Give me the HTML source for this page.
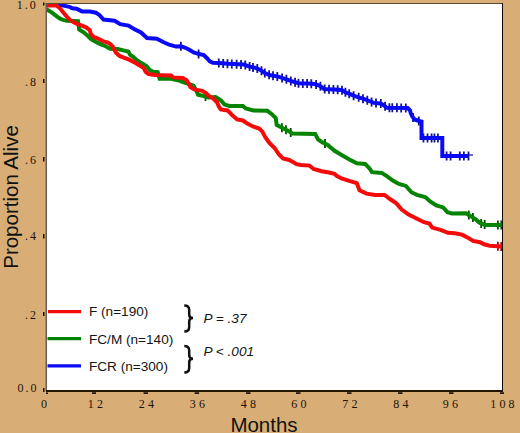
<!DOCTYPE html>
<html><head><meta charset="utf-8"><style>
html,body{margin:0;padding:0;}
body{width:520px;height:433px;background:#D8AE76;overflow:hidden;position:relative;}
svg{position:absolute;left:0;top:0;}
.ser{font-family:"Liberation Serif",serif;}
.san{font-family:"Liberation Sans",sans-serif;}
</style></head><body>
<svg width="520" height="433" viewBox="0 0 520 433">
<rect x="46" y="3" width="457" height="388" fill="#fff"/>
<g fill="#140a05">
<rect x="43" y="2.5" width="1.5" height="3"/>
<rect x="43" y="79" width="1.5" height="4"/>
<rect x="43" y="157" width="1.5" height="4.5"/>
<rect x="43" y="234" width="1.5" height="4.5"/>
<rect x="43" y="312" width="1.5" height="4"/>
<rect x="43" y="388" width="1.5" height="4"/>
<rect x="46" y="392.5" width="2" height="1.5"/>
<rect x="92" y="392.3" width="4" height="1.6"/>
<rect x="143.5" y="392.3" width="4.5" height="1.6"/>
<rect x="194.6" y="392.3" width="4.5" height="1.6"/>
<rect x="246" y="392.3" width="4.5" height="1.6"/>
<rect x="296" y="392.3" width="4.5" height="1.6"/>
<rect x="347" y="392.3" width="4.5" height="1.6"/>
<rect x="398" y="392.3" width="4.5" height="1.6"/>
<rect x="449" y="392.3" width="4.5" height="1.6"/>
<rect x="500" y="392.3" width="4" height="1.6"/>
</g>

<path d="M180.9 41.7v9 M198.6 49.4v9 M218.8 58.6v9 M223.2 58.9v9 M227.5 59.2v9 M231.8 59.5v9 M236.6 59.7v9 M241.0 59.9v9 M245.3 60.6v9 M249.6 62.1v9 M253.0 62.9v9 M257.3 64.1v9 M261.5 66.3v9 M264.8 68.6v9 M269.1 70.3v9 M273.0 71.2v9 M277.3 72.0v9 M282.1 73.4v9 M286.4 74.8v9 M290.8 76.4v9 M295.1 77.7v9 M298.5 78.7v9 M302.8 78.9v9 M307.1 79.1v9 M311.3 79.3v9 M316.1 80.1v9 M320.4 81.8v9 M324.7 84.5v9 M329.0 84.7v9 M333.4 84.9v9 M337.7 85.2v9 M342.0 85.7v9 M345.4 87.8v9 M349.2 89.3v9 M353.6 91.2v9 M358.7 92.8v9 M363.0 94.2v9 M367.3 95.7v9 M371.6 97.5v9 M376.0 98.5v9 M380.8 98.9v9 M385.1 101.8v9 M389.4 103.2v9 M392.3 103.3v9 M396.9 103.3v9 M401.2 103.4v9 M405.8 103.5v9 M413.0 112.9v9 M418.8 116.4v9 M423.5 133.5v9 M427.5 133.5v9 M431.6 133.5v9 M434.5 133.5v9 M437.9 133.5v9 M446.6 151.5v9 M450.6 151.5v9 M459.8 151.5v9 M463.9 151.5v9 M468.5 151.5v9" stroke="#14148c" stroke-width="1.8"/>
<path d="M466 155h7" stroke="#1a1aa0" stroke-width="1.3"/>
<polyline points="46,5 59.9,5 64.7,5.9 69.5,6.9 72.3,8.3 76.5,8.7 79.9,10.4 82,11.4 90,11.5 95.9,12.7 99.4,15 103.5,19.5 114.6,20.8 120.2,24.2 128.5,25.6 134,29 141,32.5 147,38 156.8,38.7 163.7,42.2 169.2,44.7 176,46.6 180.9,46.2 184.8,47.5 189.3,49.7 193.7,52.4 198.3,53.8 203.7,55 206.8,58 209.8,61.3 212.9,62.8 219.1,63.1 228.3,63.8 243.8,64.5 248.7,66.4 255.4,67.9 260,69.7 264.8,73.1 269.6,75 279.2,76.9 285,78.8 291.7,81.2 298.5,83.2 308.1,83.6 314.6,84.1 319.4,85.6 324.2,89 333.8,89.4 341.5,89.9 345.4,92.3 350.2,94.2 354.8,96.2 359.6,97.6 364.4,99.1 369.2,101 374,102.9 380.8,103.4 384.6,105.8 386.5,107.7 407.7,108 410,110.3 410.8,113.4 412.3,116.5 414.6,119.5 419.2,121 421.5,121.5 421.5,138 442.3,138 442.3,156 468,156" fill="none" stroke="#0a0af5" stroke-width="4" stroke-linejoin="miter"/>
<path d="M205.5 92.1v9 M281.9 123.2v9 M286.0 125.3v9 M290.7 127.9v9 M325.0 139.1v9 M468.8 210.5v9 M472.9 213.1v9 M481.2 218.9v9 M484.7 220.1v9 M497.9 220.4v9 M501.3 220.4v9" stroke="#004f00" stroke-width="1.8"/>
<polyline points="46,9 50.2,11.4 53.6,13.9 57.1,16.6 60.5,19 64,20.1 66.8,20.8 78,21.2 79.2,29.5 84,32.6 87.9,36 90.8,38.8 95.6,41.7 100.4,44.1 106.2,46.5 110,48.7 117.7,49.1 124.4,50.6 128.3,51.5 130.2,54.9 133.1,56.8 136.9,60.2 141.7,63.1 146.5,66 149.4,69.8 153.3,71.7 157.7,72.1 159.6,78.8 171.2,78.8 179,80.5 181.7,81.7 186,83 193.5,85.6 196,90 198.1,94.7 202.4,95.7 208.5,97.5 215.6,97 220.8,100.3 224.6,104.6 229.4,106 242.9,106 245.8,108.5 253.5,110.4 267.4,110.8 271.5,113.9 275.7,118 276.7,125 283,128.3 289.2,131.4 292.3,133.5 315.2,133.9 318,139.4 322.2,142.2 327.7,145 334.6,150.8 341.6,155 348.5,159 356.8,163.2 365.1,163.9 369.2,168 372,172.2 381.7,172.9 387.2,176.3 392.8,180.5 398.9,183.9 405.9,185.9 411.4,192.2 416.9,194.9 425.2,197 430.8,201.9 436.3,205.3 443.2,207.4 447.4,212.2 452,213.4 466,213.2 470.2,215.9 475.7,219.4 479.9,222.9 485.4,224.9 502,224.9" fill="none" stroke="#038403" stroke-width="4" stroke-linejoin="miter"/>
<path d="M497.9 241.7v9 M501.3 241.9v9" stroke="#b00000" stroke-width="1.8"/>
<polyline points="46,5.4 56.4,5.4 59.9,8.3 63.3,12.5 66.8,16.6 70.2,20.1 73.7,22.2 77.2,23.9 81.2,25.4 86,27.3 89.8,30.2 90.8,34 93.7,36.9 98.5,38.8 103.3,41.3 108.1,42.7 110,43.8 112.9,46.7 115.8,52.5 119.6,55.9 124.4,57.8 129.2,59.7 134,62.1 138.8,65 143.7,67.9 145.6,71.7 148.5,74.1 155.2,75 171.2,75.5 173.1,77.4 182.7,77.9 186.5,80.3 188.5,83.2 190.4,87 194.2,89.4 202.4,90.8 205.9,93 208.5,95.7 213,98.4 217.2,102.5 218.8,106.5 220.8,109.4 227.5,110.4 232.3,115.2 237.1,119.5 242.9,120.5 247.7,123.8 253.5,126.7 259.2,128.5 262.2,131.4 265.3,137.1 269.4,142.9 274.6,148 278.8,154.3 283,158.4 289.2,160 293.3,162.1 296.4,164.2 301,165 309.5,165.6 313.5,169 321.7,171.2 329,172.5 334.5,173.9 337,176 341.5,178.4 350,181.2 356.8,183.2 359.5,190.2 366.5,193.6 375,195 384.5,195 390,199 396,203 401.7,209.5 408.6,214.6 417,218.8 424,222.2 429.4,223.6 432.2,227.6 440.5,229.8 448,232.8 455,233.2 462,234.6 467.4,237.4 473,240.9 480,242.2 484,244.3 489.6,245.7 502,246.4" fill="none" stroke="#f50a0a" stroke-width="4" stroke-linejoin="miter"/>

<rect x="45" y="3" width="1" height="388" fill="#9a8a68"/>
<rect x="46" y="3" width="1" height="388" fill="#6b5f55"/>
<rect x="46" y="3" width="457" height="1" fill="#5a4a30"/>
<rect x="502" y="3" width="1" height="389" fill="#140a0a"/>
<rect x="46" y="390" width="457" height="2" fill="#231405"/>
<g stroke-width="3.3">
<line x1="48" y1="311.7" x2="81" y2="311.7" stroke="#f50a0a"/>
<line x1="47.5" y1="338.7" x2="81" y2="338.7" stroke="#038403"/>
<line x1="47.5" y1="365.8" x2="81" y2="365.8" stroke="#0a0af5"/>
</g>
<g class="san" font-size="13.6" fill="#151515">
<text x="89" y="316.3">F (n=190)</text>
<text x="89" y="343.8">FC/M (n=140)</text>
<text x="89" y="370.8">FCR (n=300)</text>
<text x="203.5" y="322.8" font-style="italic">P = .37</text>
<text x="203.5" y="356" font-style="italic">P &lt; .001</text>
</g>
<path d="M184.3,305.6 C187.8,305.6 189.2,307.1 189.2,310.1 L189.2,314.5 C189.2,316.8 190.6,318 193,318 C190.6,318 189.2,319.2 189.2,321.5 L189.2,327.1 C189.2,330.1 187.8,331.6 184.3,331.6 M184.3,346 C187.8,346 189.2,347.5 189.2,350.5 L189.2,355.3 C189.2,357.6 190.6,358.8 193,358.8 C190.6,358.8 189.2,360.0 189.2,362.3 L189.2,367.9 C189.2,370.9 187.8,372.4 184.3,372.4" fill="none" stroke="#111" stroke-width="2.5"/>
<g class="ser" font-size="12" fill="#1e1208" text-anchor="end" letter-spacing="2">
<text x="37.8" y="9">1.0</text>
<text x="38" y="85.5">.8</text>
<text x="38" y="163.5">.6</text>
<text x="38" y="240">.4</text>
<text x="38" y="318.5">.2</text>
<text x="38.6" y="391.5">0.0</text>
</g>
<g class="ser" font-size="12" fill="#1e1208" text-anchor="middle" letter-spacing="3.2">
<text x="45.5" y="408">0</text>
<text x="97" y="408">12</text>
<text x="148" y="408">24</text>
<text x="199" y="408">36</text>
<text x="250" y="408">48</text>
<text x="300.5" y="408">60</text>
<text x="351.5" y="408">72</text>
<text x="402.5" y="408">84</text>
<text x="452" y="408">96</text>
<text x="504" y="408">108</text>
</g>
<text class="san" x="264" y="432" font-size="20.5" fill="#111" text-anchor="middle">Months</text>
<text class="san" transform="translate(18,197) rotate(-90)" font-size="20.5" fill="#111" text-anchor="middle">Proportion Alive</text>
</svg>
</body></html>
